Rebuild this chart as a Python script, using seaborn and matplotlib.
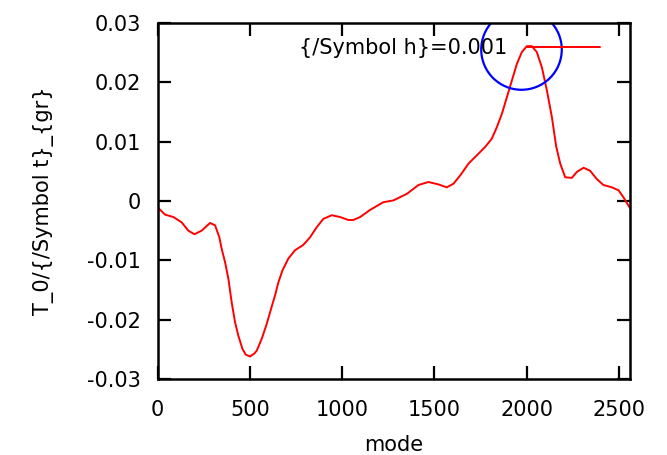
import matplotlib
matplotlib.use("Agg")
import matplotlib.pyplot as plt
import seaborn as sns
import pandas as pd

# Normalised group delay per mode
modes = [0, 8, 41, 86, 131, 167, 200, 239, 285, 312, 335, 348, 366, 384, 402,
         420, 438, 460, 478, 501, 525, 538, 565, 592, 615, 637, 655, 677, 709,
         745, 790, 827, 863, 899, 944, 989, 1034, 1061, 1098, 1152, 1224, 1278,
         1351, 1414, 1468, 1522, 1567, 1603, 1640, 1685, 1730, 1775, 1811, 1838,
         1866, 1893, 1920, 1947, 1974, 2001, 2028, 2055, 2082, 2110, 2137, 2160,
         2182, 2209, 2245, 2272, 2308, 2344, 2380, 2416, 2462, 2498, 2525, 2552,
         2560]
values = [-0.0010, -0.0013, -0.0023, -0.0027, -0.0036, -0.0050, -0.0056, -0.0050,
          -0.0037, -0.0041, -0.0061, -0.0081, -0.0103, -0.0131, -0.0171, -0.0204,
          -0.0227, -0.0249, -0.0259, -0.0262, -0.0257, -0.0252, -0.0232, -0.0207,
          -0.0182, -0.0159, -0.0137, -0.0117, -0.0097, -0.0083, -0.0074, -0.0061,
          -0.0044, -0.0030, -0.0024, -0.0027, -0.0032, -0.0032, -0.0027, -0.0015,
          -0.0002, 0.0001, 0.0012, 0.0027, 0.0032, 0.0028, 0.0023, 0.0029,
          0.0043, 0.0063, 0.0077, 0.0091, 0.0105, 0.0124, 0.0147, 0.0175,
          0.0203, 0.0231, 0.0251, 0.0261, 0.0261, 0.0251, 0.0226, 0.0186,
          0.0141, 0.0092, 0.0063, 0.0040, 0.0039, 0.0049, 0.0056, 0.0051,
          0.0037, 0.0027, 0.0023, 0.0018, 0.0006, -0.0008, -0.0012]

series_label = "{/Symbol h}=0.001"
x_ticks = [0, 500, 1000, 1500, 2000, 2500]
y_ticks = [-0.03, -0.02, -0.01, 0, 0.01, 0.02, 0.03]
y_tick_labels = ["-0.03", "-0.02", "-0.01", "0", "0.01", "0.02", "0.03"]

# Highlighted region around the peak
highlight_mode = 1970
highlight_value = 0.0257

sns.set_style("ticks")
plt.rcParams["font.family"] = ["DejaVu Sans"]
plt.rcParams["font.size"] = 15
plt.rcParams["text.color"] = "black"
plt.rcParams["axes.labelcolor"] = "black"
plt.rcParams["xtick.color"] = "black"
plt.rcParams["ytick.color"] = "black"

df = pd.DataFrame({"mode": modes, "value": values})

fig = plt.figure(figsize=(6.67, 4.55), dpi=100)
ax = fig.add_axes([157.5 / 667, 1 - 379 / 455, 472.5 / 667, 356 / 455])

sns.lineplot(data=df, x="mode", y="value", ax=ax, color="#ff0000",
             linewidth=1.4, label=series_label)

ax.plot([highlight_mode], [highlight_value], marker="o", markersize=58,
        markerfacecolor="none", markeredgecolor="#0000ff", markeredgewidth=1.6,
        linestyle="none")

ax.set_xlim(0, 2560)
ax.set_ylim(-0.03, 0.03)
ax.set_xticks(x_ticks)
ax.set_yticks(y_ticks)
ax.set_yticklabels(y_tick_labels)

for side in ["left", "right", "top", "bottom"]:
    ax.spines[side].set_visible(True)
    ax.spines[side].set_linewidth(1.8)
    ax.spines[side].set_color("black")

ax.tick_params(axis="both", which="major", direction="in", length=9.5,
               width=1.6, top=True, right=True, labelsize=15,
               colors="black", labelcolor="black")
ax.tick_params(axis="x", pad=15)
ax.tick_params(axis="y", pad=12)

ax.set_xlabel("mode", fontsize=15, labelpad=11, color="black")
ax.set_ylabel("T_0/{/Symbol t}_{gr}", fontsize=15, labelpad=24, color="black")

leg = ax.legend(loc="center right", bbox_to_anchor=(0.9365, 0.930), frameon=False,
                markerfirst=False, handlelength=3.5, handletextpad=0.95,
                borderpad=0, borderaxespad=0, fontsize=15)
for t in leg.get_texts():
    t.set_color("black")

fig.savefig("out.png", dpi=100)
